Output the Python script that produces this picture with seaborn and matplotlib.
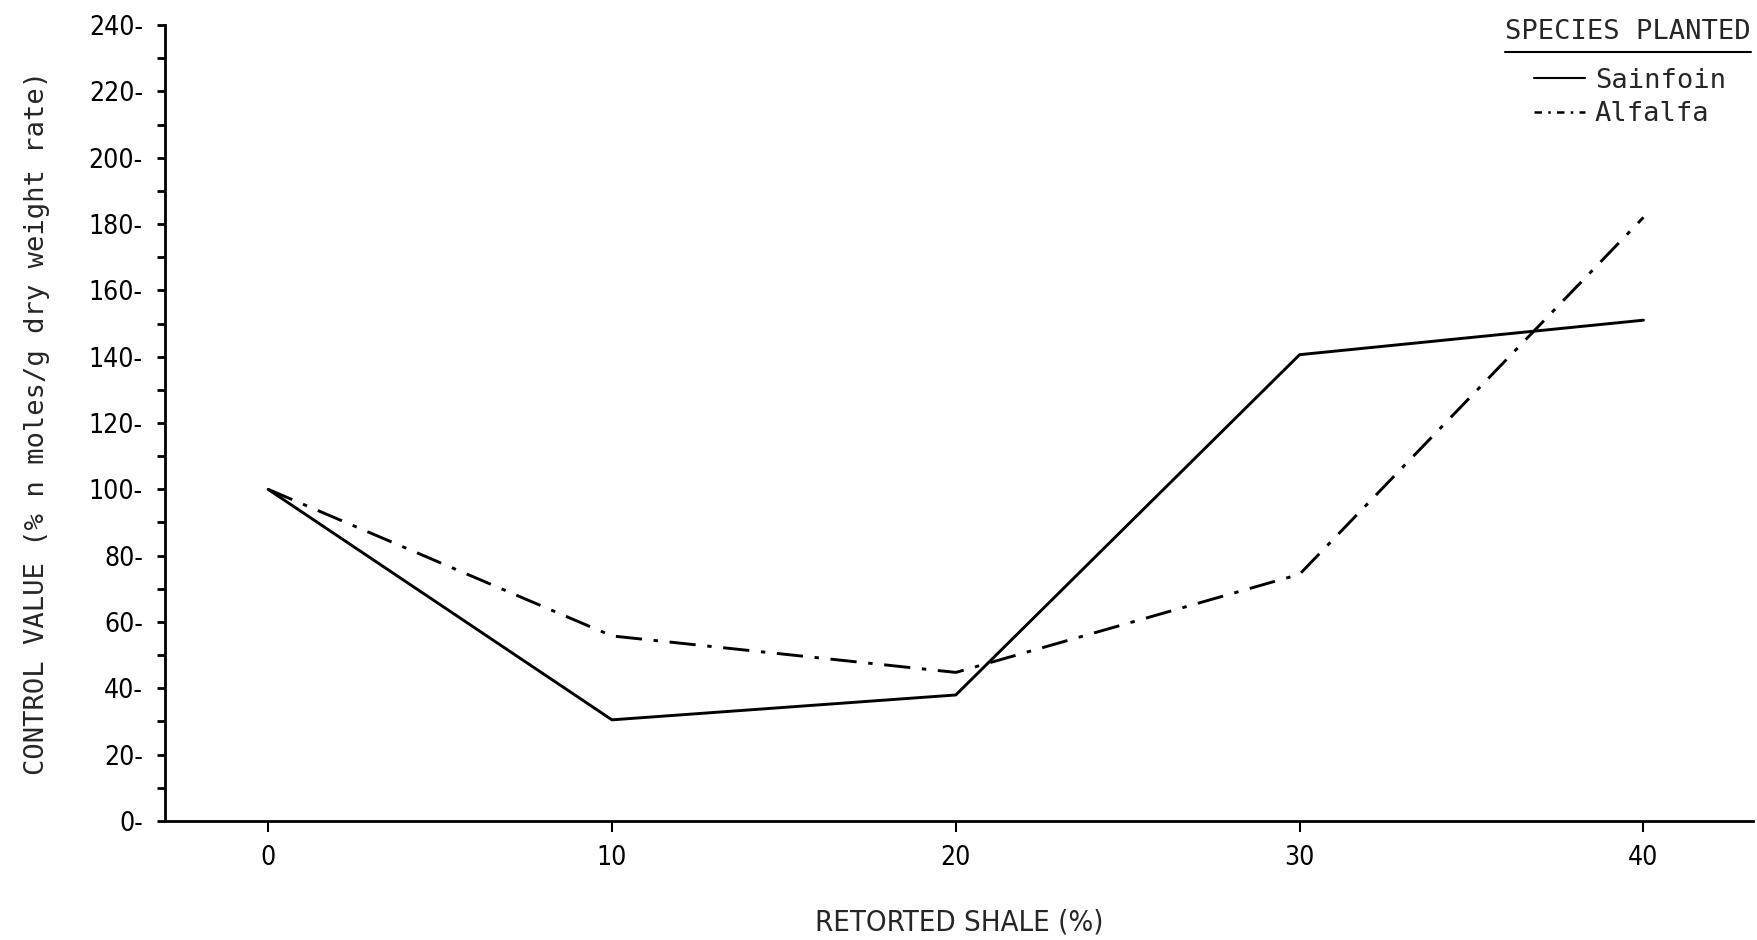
import matplotlib
matplotlib.use("Agg")
import matplotlib.pyplot as plt
import pandas as pd
import seaborn as sns
from matplotlib.lines import Line2D
from matplotlib.ticker import MultipleLocator

# values
shale_pct = [0, 10, 20, 30, 40]
sainfoin = [100, 30.5, 38, 140.6, 151]
alfalfa = [100, 55.8, 44.8, 74.4, 182]
y_ticks = list(range(0, 241, 20))
x_ticks = [0, 10, 20, 30, 40]

df = pd.DataFrame(
    {
        "shale": shale_pct * 2,
        "value": sainfoin + alfalfa,
        "species": ["Sainfoin"] * len(shale_pct) + ["Alfalfa"] * len(shale_pct),
    }
)

sns.set_style("ticks")
mono = ["DejaVu Sans Mono"]
narrow = ["DejaVu Sans"]

fig = plt.figure(figsize=(17.57, 9.40), dpi=100)
ax = fig.add_axes([0.0939, 0.1266, 0.9041, 0.8468])

sns.lineplot(
    data=df,
    x="shale",
    y="value",
    hue="species",
    style="species",
    palette={"Sainfoin": "black", "Alfalfa": "black"},
    dashes={"Sainfoin": "", "Alfalfa": (9, 4, 1.5, 4)},
    linewidth=2.1,
    ax=ax,
    legend=False,
)

ax.set_xlim(-3.0, 43.2)
ax.set_ylim(0, 240)
ax.set_xticks(x_ticks)
ax.set_xticklabels([str(v) for v in x_ticks], family=narrow, stretch="condensed", fontsize=19)
ax.set_yticks(y_ticks)
ax.set_yticklabels([f"{v}-" for v in y_ticks], family=narrow, stretch="condensed", fontsize=19)
ax.yaxis.set_minor_locator(MultipleLocator(10))

for side in ["top", "right"]:
    ax.spines[side].set_visible(False)
for side in ["left", "bottom"]:
    ax.spines[side].set_linewidth(2)
    ax.spines[side].set_color("black")

ax.tick_params(axis="y", which="both", direction="out", length=6, width=2, pad=10, colors="black")
ax.tick_params(axis="x", which="major", direction="out", length=8, width=1.5, pad=9, colors="black")

ax.set_xlabel("RETORTED SHALE (%)", family=narrow, stretch="condensed", fontsize=21, labelpad=27)
ax.set_ylabel("CONTROL VALUE (% n moles/g dry weight rate)", family=mono, fontsize=19.5, labelpad=28)

# legend title, underlined, then the two entries indented beneath it
title = fig.text(0.9966, 0.958, "SPECIES PLANTED", ha="right", va="baseline",
                 family=mono, fontsize=19.5)
fig.canvas.draw()
bb = title.get_window_extent().transformed(fig.transFigure.inverted())
fig.add_artist(
    Line2D([bb.x0, bb.x1], [bb.y0 - 0.007, bb.y0 - 0.007], color="black", linewidth=1.5,
           transform=fig.transFigure)
)

handles = [
    Line2D([], [], color="black", linewidth=1.5),
    Line2D([], [], color="black", linewidth=1.8, dashes=(3, 2.5, 1, 2.5)),
]
leg = fig.legend(
    handles,
    ["Sainfoin", "Alfalfa"],
    loc="upper left",
    bbox_to_anchor=(0.873, 0.928),
    frameon=False,
    prop={"family": mono, "size": 19.5},
    handlelength=1.9,
    handletextpad=0.35,
    labelspacing=0.28,
    borderpad=0.0,
    borderaxespad=0.0,
)

fig.savefig("out.png", dpi=100)
